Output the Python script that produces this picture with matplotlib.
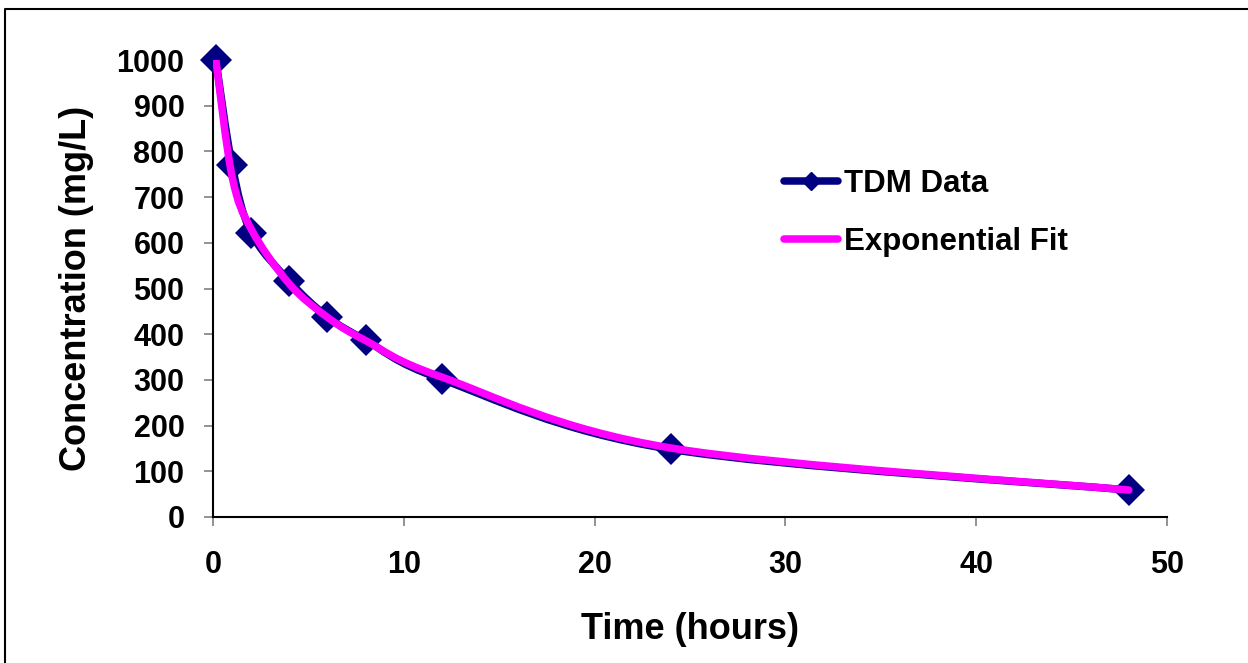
import numpy as np
import matplotlib
matplotlib.use("Agg")
import matplotlib.pyplot as plt
from matplotlib.path import Path
from matplotlib.patches import PathPatch
from matplotlib.lines import Line2D

# ---- data ----
time_h = [0.15, 1, 2, 4, 6, 8, 12, 24, 48]
tdm_conc = [1000, 770, 622, 516, 438, 387, 301, 148, 59]
fit_conc = [1000, 745, 630, 510, 437, 386, 306, 151, 59]
x_ticks = [0, 10, 20, 30, 40, 50]
y_ticks = [0, 100, 200, 300, 400, 500, 600, 700, 800, 900, 1000]
series_names = ["TDM Data", "Exponential Fit"]

NAVY = "#000080"
MAGENTA = "#FF00FF"

plt.rcParams['font.family'] = ['Liberation Sans', 'DejaVu Sans']
plt.rcParams['font.weight'] = 'bold'


def smooth_path(xs, ys):
    """Excel-style smoothed line: cubic Bezier segments through the points."""
    pts = np.column_stack([xs, ys]).astype(float)
    n = len(pts)
    verts = [pts[0]]
    codes = [Path.MOVETO]
    for i in range(n - 1):
        p0 = pts[i - 1] if i > 0 else pts[i]
        p1 = pts[i]
        p2 = pts[i + 1]
        p3 = pts[i + 2] if i + 2 < n else pts[i + 1]
        c1 = p1 + (p2 - p0) / 6.0
        c2 = p2 - (p3 - p1) / 6.0
        verts += [c1, c2, p2]
        codes += [Path.CURVE4] * 3
    return Path(verts, codes)


fig = plt.figure(figsize=(12.48, 6.63), dpi=100)
ax = fig.add_axes([213 / 1248, 1 - 517 / 663, (1167 - 213) / 1248, (517 - 60) / 663])

lw = 5.4
ax.add_patch(PathPatch(smooth_path(time_h, tdm_conc), facecolor='none', edgecolor=NAVY,
                       lw=lw, capstyle='round', joinstyle='round', zorder=2))
ax.plot(time_h, tdm_conc, linestyle='none', marker='D', markersize=16.5,
        color=NAVY, markeredgewidth=0, zorder=3, clip_on=False)
ax.add_patch(PathPatch(smooth_path(time_h, fit_conc), facecolor='none', edgecolor=MAGENTA,
                       lw=lw, capstyle='round', joinstyle='round', zorder=4))

ax.set_xlim(0, 50)
ax.set_ylim(0, 1000)
ax.set_xticks(x_ticks)
ax.set_yticks(y_ticks)
ax.tick_params(axis='both', direction='out', length=6.5, width=1.2, color='#808080',
               labelsize=22, pad=14)
ax.tick_params(axis='x', pad=17)
for s in ['top', 'right']:
    ax.spines[s].set_visible(False)
for s in ['left', 'bottom']:
    ax.spines[s].set_linewidth(1.5)
    ax.spines[s].set_color('black')

ax.set_xlabel("Time (hours)", fontsize=26, fontweight='bold', labelpad=23)
ax.set_ylabel("Concentration (mg/L)", fontsize=26, fontweight='bold', labelpad=16)

handles = [
    Line2D([], [], color=NAVY, lw=lw, marker='D', markersize=9, solid_capstyle='round'),
    Line2D([], [], color=MAGENTA, lw=lw, solid_capstyle='round'),
]
leg = fig.legend(handles, series_names, loc='upper left', bbox_to_anchor=(771 / 1248, 1 - 156 / 663),
                 frameon=False, prop={'size': 22.5, 'weight': 'bold'}, handlelength=1.75,
                 handletextpad=0.2, labelspacing=0.9, borderaxespad=0)

# outer chart border (top and left visible)
fig.add_artist(Line2D([5 / 1248, 5 / 1248, 1.0], [0.0, 1 - 9 / 663, 1 - 9 / 663],
                      transform=fig.transFigure, color='black', lw=1.5))

fig.savefig("out.png", dpi=100)
